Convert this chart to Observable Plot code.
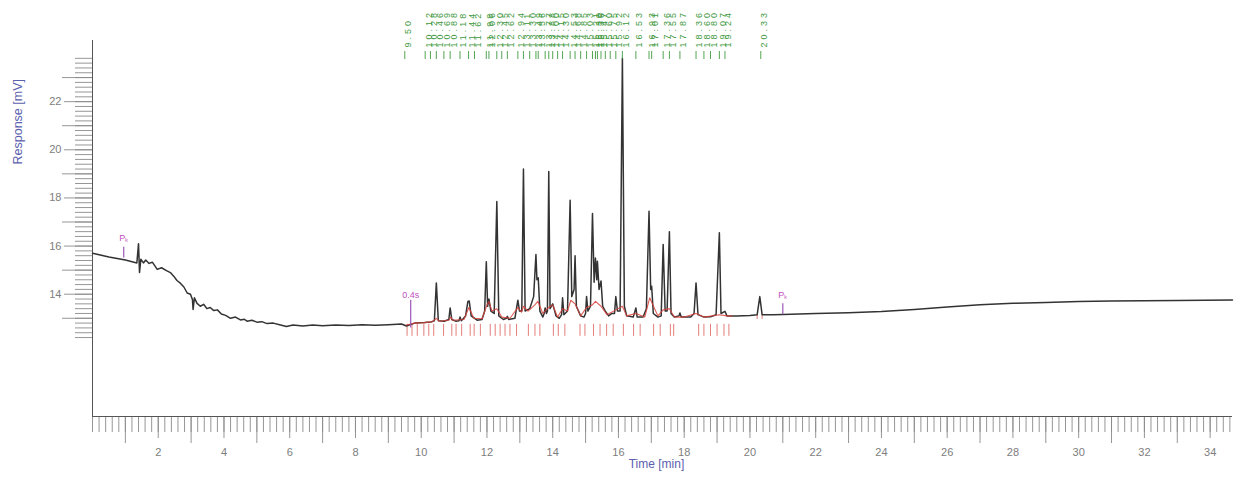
<!DOCTYPE html>
<html>
<head>
<meta charset="utf-8">
<script src="https://cdn.jsdelivr.net/npm/d3@7"></script>
<script src="https://cdn.jsdelivr.net/npm/@observablehq/plot@0.6"></script>
<style>
  body { margin: 0; background: #fff; }
  g[aria-label="peak times"] text, text[aria-label="peak times"] { letter-spacing: 3px; }
</style>
</head>
<body>
<div id="chart"></div>
<script>
// Detector signal: [time (min), response (mV)] vertices of the trace.
const signal = [
  [0.00, 15.70], [0.50, 15.55], [1.00, 15.42], [1.35, 15.30], [1.40, 16.10], [1.43, 14.90],
  [1.47, 15.45], [1.55, 15.30], [1.62, 15.42], [1.72, 15.28], [1.82, 15.33], [1.97, 15.03],
  [2.10, 15.10], [2.25, 14.98], [2.37, 14.90], [2.47, 14.75], [2.57, 14.57], [2.68, 14.45],
  [2.78, 14.30], [2.88, 14.05], [2.98, 14.00], [3.04, 13.78], [3.06, 13.37], [3.10, 13.85],
  [3.18, 13.62], [3.28, 13.50], [3.38, 13.58], [3.48, 13.40], [3.58, 13.45], [3.69, 13.32],
  [3.80, 13.35], [3.92, 13.18], [4.05, 13.12], [4.20, 13.00], [4.35, 13.05], [4.50, 12.93],
  [4.62, 12.96], [4.70, 12.88], [4.85, 12.92], [5.00, 12.84], [5.15, 12.86], [5.31, 12.78],
  [5.50, 12.80], [5.72, 12.72], [5.90, 12.66], [6.10, 12.72], [6.40, 12.68], [6.70, 12.72],
  [7.00, 12.69], [7.40, 12.72], [7.80, 12.70], [8.20, 12.73], [8.60, 12.71], [9.00, 12.73],
  [9.40, 12.76], [9.55, 12.68], [9.80, 12.80], [10.10, 12.82], [10.30, 12.85], [10.40, 12.90],
  [10.46, 14.47], [10.52, 12.90], [10.70, 12.88], [10.84, 12.95], [10.88, 13.43], [10.93, 12.95],
  [11.05, 12.88], [11.15, 12.90], [11.18, 13.05], [11.22, 12.90], [11.35, 13.10], [11.42, 13.70],
  [11.46, 13.72], [11.52, 13.10], [11.70, 12.92], [11.85, 12.95], [11.93, 13.30], [11.98, 15.35],
  [12.02, 13.50], [12.06, 13.80], [12.12, 13.30], [12.22, 13.20], [12.30, 17.85], [12.36, 13.10],
  [12.50, 12.95], [12.59, 13.00], [12.62, 13.08], [12.66, 12.95], [12.85, 13.00], [12.94, 13.75],
  [12.99, 13.30], [13.06, 13.30], [13.11, 19.20], [13.16, 13.30], [13.30, 13.40], [13.42, 13.90],
  [13.49, 15.65], [13.52, 14.60], [13.56, 14.68], [13.61, 13.30], [13.70, 13.05], [13.74, 13.20],
  [13.77, 13.43], [13.81, 13.20], [13.84, 13.30], [13.88, 19.10], [13.92, 13.40], [14.00, 13.60],
  [14.10, 13.10], [14.20, 13.00], [14.27, 13.15], [14.30, 13.85], [14.34, 13.15], [14.45, 13.30],
  [14.53, 17.90], [14.58, 13.90], [14.65, 14.20], [14.68, 15.60], [14.72, 13.50], [14.85, 13.10],
  [14.95, 13.05], [15.00, 13.20], [15.03, 13.90], [15.07, 13.30], [15.15, 13.50], [15.21, 17.35],
  [15.26, 14.50], [15.30, 15.50], [15.34, 14.60], [15.36, 15.37], [15.41, 14.20], [15.47, 14.55],
  [15.52, 13.50], [15.60, 13.30], [15.70, 13.10], [15.80, 13.20], [15.88, 13.20], [15.92, 13.90],
  [15.97, 13.30], [16.05, 13.30], [16.12, 23.80], [16.18, 13.50], [16.25, 13.10], [16.45, 13.05],
  [16.53, 13.43], [16.57, 13.05], [16.75, 13.05], [16.85, 13.40], [16.93, 17.45], [16.98, 14.20],
  [17.01, 14.33], [17.06, 13.20], [17.20, 13.05], [17.30, 13.10], [17.36, 16.07], [17.42, 13.30],
  [17.48, 13.30], [17.55, 16.60], [17.60, 13.20], [17.70, 13.05], [17.84, 13.10], [17.87, 13.22],
  [17.91, 13.05], [18.20, 13.05], [18.30, 13.20], [18.36, 14.47], [18.42, 13.15], [18.60, 13.05],
  [18.80, 13.06], [18.97, 13.15], [19.07, 16.55], [19.12, 13.20], [19.24, 13.29], [19.30, 13.10],
  [19.60, 13.10], [20.00, 13.12], [20.22, 13.15], [20.30, 13.90], [20.37, 13.15], [20.70, 13.15],
  [21.00, 13.16], [22.00, 13.20], [23.00, 13.23], [24.00, 13.28], [25.00, 13.37], [26.00, 13.47],
  [27.00, 13.56], [28.00, 13.62], [29.00, 13.66], [30.00, 13.70], [31.00, 13.72], [32.00, 13.73],
  [33.00, 13.74], [34.68, 13.76]
];

// Integration baseline under the peak cluster: [time (min), response (mV)].
const integration = [
  [9.55, 12.72], [9.80, 12.80], [10.10, 12.82], [10.35, 12.86], [10.46, 13.00], [10.55, 12.88],
  [10.85, 12.93], [10.90, 13.05], [10.95, 12.92], [11.30, 12.95], [11.45, 13.45], [11.60, 13.00],
  [11.85, 12.98], [12.00, 13.55], [12.06, 13.70], [12.15, 13.30], [12.30, 13.40], [12.45, 13.05],
  [12.70, 13.00], [12.94, 13.45], [13.05, 13.25], [13.11, 13.50], [13.25, 13.30], [13.45, 13.55],
  [13.55, 13.70], [13.70, 13.20], [13.88, 13.45], [14.00, 13.55], [14.15, 13.05], [14.30, 13.40],
  [14.45, 13.30], [14.55, 13.75], [14.68, 13.60], [14.85, 13.10], [15.03, 13.45], [15.20, 13.55],
  [15.30, 13.70], [15.47, 13.50], [15.65, 13.15], [15.92, 13.35], [16.12, 13.50], [16.25, 13.10],
  [16.53, 13.20], [16.80, 13.05], [16.95, 13.85], [17.05, 13.55], [17.20, 13.10], [17.36, 13.35],
  [17.55, 13.40], [17.70, 13.05], [18.00, 13.05], [18.36, 13.20], [18.60, 13.05], [19.07, 13.15],
  [19.30, 13.10], [19.45, 13.10]
];

// Peak start / end markers (min).
const peakBounds = [
  9.57, 9.72, 9.88, 10.08, 10.23, 10.38, 10.68, 10.93, 11.06, 11.23, 11.49, 11.61, 11.80,
  12.10, 12.25, 12.40, 12.55, 12.70, 12.90, 13.26, 13.46, 13.61, 14.02, 14.17, 14.37, 14.83,
  14.98, 15.24, 15.44, 15.64, 15.84, 16.15, 16.46, 16.66, 17.07, 17.27, 17.58, 17.68, 18.44,
  18.60, 18.80, 19.00, 19.21, 19.36
];

// Retention times of the detected peaks (min).
const retentionTimes = [
  9.50, 10.12, 10.28, 10.46, 10.69, 10.88, 11.18, 11.44, 11.62, 11.98, 12.06, 12.30, 12.45,
  12.62, 12.94, 13.11, 13.30, 13.49, 13.56, 13.77, 13.88, 14.00, 14.15, 14.30, 14.53, 14.68,
  14.85, 15.03, 15.21, 15.30, 15.36, 15.47, 15.60, 15.75, 15.92, 16.12, 16.53, 16.93, 17.01,
  17.36, 17.55, 17.87, 18.36, 18.60, 18.80, 19.07, 19.24, 20.33
];

// Integration events: time (min), label, label level and marker span (mV).
const eventTimes = [0.95, 9.68, 21.0];
const eventLabels = ["Pₖ", "0.4s", "Pₖ"];
const eventLabelLevels = [16.35, 13.95, 13.95];
const eventTop = [15.95, 13.75, 13.6];
const eventBottom = [15.5, 12.6, 13.15];

// Axis ticks.
const xMinor = d3.range(0, 34.61, 0.2);
const xOdd = d3.range(1, 35, 2);
const xEven = d3.range(2, 35, 2);
const yMinor = d3.range(12.2, 23.81, 0.2);
const yOdd = [13, 15, 17, 19, 21, 23];
const yEven = [14, 16, 18, 20, 22];

const events = eventTimes.map((t, i) => ({
  t, label: eventLabels[i], level: eventLabelLevels[i], top: eventTop[i], bottom: eventBottom[i]
}));

const tickGray = "#8a8a8a";
const titleBlue = "#5c5fae";
const green = "#3f9a3f";

const chart = Plot.plot({
  width: 1235,
  height: 479,
  marginLeft: 92,
  marginRight: 3,
  marginTop: 40,
  marginBottom: 63,
  x: {domain: [0, 34.68]},
  y: {domain: [8.92, 24.54]},
  style: {fontFamily: "'Liberation Sans', Arial, sans-serif", background: "#fff", overflow: "visible"},
  marks: [
    // x axis ticks
    Plot.axisX(xMinor, {tickSize: 16, tickFormat: () => "", label: null, stroke: tickGray, strokeWidth: 0.9}),
    Plot.axisX(xOdd, {tickSize: 27, tickFormat: () => "", label: null, stroke: tickGray, strokeWidth: 0.9}),
    Plot.axisX(xEven, {tickSize: 22, tickPadding: 10, fontSize: 11, label: null, stroke: tickGray, fill: "#7d7d7d", strokeWidth: 0.9}),
    // y axis ticks
    Plot.axisY(yMinor, {tickSize: 17, tickFormat: () => "", label: null, stroke: tickGray, strokeWidth: 0.9}),
    Plot.axisY(yOdd, {tickSize: 30, tickFormat: () => "", label: null, stroke: tickGray, strokeWidth: 0.9}),
    Plot.axisY(yEven, {tickSize: 28, tickPadding: 3, fontSize: 11, label: null, stroke: tickGray, fill: "#7d7d7d", strokeWidth: 0.9}),
    // axis lines
    Plot.ruleX([0], {stroke: "#555"}),
    Plot.ruleY([8.92], {stroke: "#555"}),
    // axis titles
    Plot.text(["Time [min]"], {frameAnchor: "bottom", dx: -6, dy: 51, fontSize: 12, fill: titleBlue}),
    Plot.text(["Response [mV]"], {frameAnchor: "left", dx: -75, dy: -64, rotate: -90, fontSize: 12.5, fill: titleBlue}),
    // peak boundaries
    Plot.ruleX(peakBounds, {y1: 12.25, y2: 12.75, stroke: "#d9534f", strokeWidth: 1, strokeOpacity: 0.75}),
    Plot.ruleX([20.22, 20.37], {y1: 12.95, y2: 13.15, stroke: "#d9534f", strokeWidth: 1, strokeOpacity: 0.75}),
    // signal
    Plot.line(signal, {x: d => d[0], y: d => d[1], stroke: "#333", strokeWidth: 1.5}),
    Plot.line(integration, {x: d => d[0], y: d => d[1], stroke: "#d8403a", strokeWidth: 1.1, strokeOpacity: 0.85}),
    // integration events
    Plot.ruleX(events, {x: "t", y1: "bottom", y2: "top", stroke: "#9b59b6", strokeWidth: 1.2}),
    Plot.text(events, {x: "t", y: "level", text: "label", fill: "#c050c0", fontSize: 9}),
    // retention time labels
    Plot.axisX(retentionTimes, {anchor: "top", dy: 18, tickSize: 8, tickFormat: () => "", label: null, stroke: green, strokeWidth: 0.9}),
    Plot.text(retentionTimes, {
      ariaLabel: "peak times",
      x: d => d, text: d => d.toFixed(2),
      frameAnchor: "top", dy: 7, rotate: -90, textAnchor: "start",
      fontSize: 9, fill: green
    })
  ]
});

// Spread the characters of the retention-time labels.
d3.select(chart).selectAll("text")
  .filter(function () { return this.getAttribute("transform")?.includes("rotate(-90") && d3.select(this.parentNode).attr("fill") === green; })
  .style("letter-spacing", "3px");
d3.select(chart).selectAll(`g[fill="${green}"] text`).style("letter-spacing", "3px");

document.getElementById("chart").appendChild(chart);
</script>
</body>
</html>
